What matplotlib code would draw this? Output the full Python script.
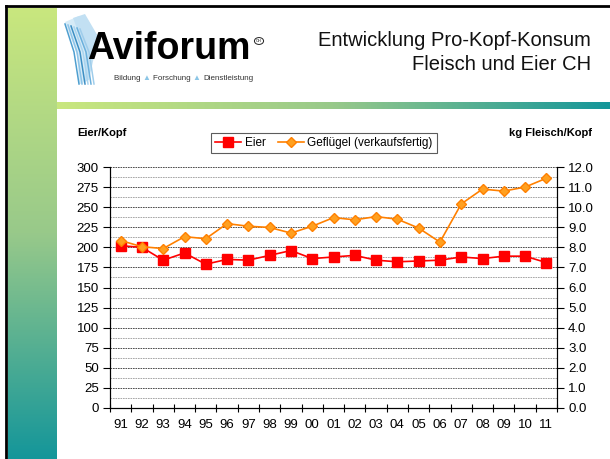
import numpy as np
import matplotlib
matplotlib.use("Agg")
import matplotlib.pyplot as plt
from matplotlib.lines import Line2D
from matplotlib.patches import Circle, Polygon
from matplotlib.colors import LinearSegmentedColormap

plt.rcParams['font.family'] = ['Liberation Sans', 'DejaVu Sans']

years = ["91", "92", "93", "94", "95", "96", "97", "98", "99", "00", "01",
         "02", "03", "04", "05", "06", "07", "08", "09", "10", "11"]
eier = [202, 200, 184, 193, 179, 185, 184, 190, 196, 186, 188,
        190, 184, 182, 183, 184, 188, 186, 189, 189, 181]
gefluegel = [8.34, 8.03, 7.94, 8.53, 8.43, 9.18, 9.05, 8.99, 8.71, 9.05, 9.48,
             9.37, 9.53, 9.40, 8.96, 8.26, 10.16, 10.90, 10.80, 11.00, 11.44]
left_ticks = np.arange(0, 301, 25)
right_ticks = np.arange(0, 12.1, 1.0)

W, H = 610, 459
fig = plt.figure(figsize=(W / 100, H / 100), dpi=100)
fig.patch.set_facecolor("white")


def fx(x):
    return x / W


def fy(y):
    return 1 - y / H


# gradient decoration (left bar + header rule)
grad = LinearSegmentedColormap.from_list("g", ["#c9e77e", "#98c98a", "#14969a"])
bar = fig.add_axes([fx(8), 0, fx(57) - fx(8), fy(8)])
bar.imshow(np.linspace(0, 1, 256).reshape(-1, 1), aspect="auto", cmap=grad)
bar.axis("off")
rule = fig.add_axes([fx(57), fy(109), 1 - fx(57), fy(102) - fy(109)])
rule.imshow(np.linspace(0, 1, 256).reshape(1, -1), aspect="auto", cmap=grad)
rule.axis("off")

# black frame top/left
fig.add_artist(Line2D([fx(6), 1], [fy(6), fy(6)], color="black", lw=2))
fig.add_artist(Line2D([fx(6), fx(6)], [0, fy(6)], color="black", lw=2))

# logo graphic: pale blue fan of strings
fan = [[(65, 22), (79, 16), (95, 40), (91, 60), (83, 84), (79, 84), (77, 55)],
       [(73, 18), (85, 14), (99, 38), (95, 52), (89, 80), (85, 82), (85, 50)]]
for pts, c in zip(fan, ["#d6ebf7", "#c2e0f3"]):
    fig.add_artist(Polygon([(fx(a), fy(b)) for a, b in pts], closed=True,
                           transform=fig.transFigure, fc=c, ec="none"))
strings = ["#4f9fd0", "#8cc4e8", "#3d8fc4", "#a9d4ef", "#6bb0dc", "#9fcdeb"]
for i, c in enumerate(strings):
    x0 = 65 + i * 3
    fig.add_artist(Line2D([fx(x0), fx(x0 + 9), fx(x0 + 14)],
                          [fy(24 + i), fy(52), fy(84)], color=c, lw=1.1))

fig.text(fx(87), fy(49), "Aviforum", fontsize=27, fontweight="bold",
         color="black", ha="left", va="center")
fig.add_artist(Circle((fx(259), fy(41)), 0.0075, transform=fig.transFigure,
                      fill=False, ec="#222222", lw=0.7))
fig.text(fx(259), fy(41), "CH", fontsize=2.8, ha="center", va="center")

# sub line, placed piece by piece
renderer = fig.canvas.get_renderer()
xpos = fx(114)
for s, c in [("Bildung ", "#333333"), ("▲ ", "#8cc6e6"), ("Forschung ", "#333333"),
             ("▲ ", "#8cc6e6"), ("Dienstleistung", "#333333")]:
    t = fig.text(xpos, fy(78), s, fontsize=5.8, color=c, ha="left", va="center")
    bb = t.get_window_extent(renderer)
    xpos += bb.width / W

# title
fig.text(fx(591), fy(41), "Entwicklung Pro-Kopf-Konsum", fontsize=14.5,
         ha="right", va="center", color="#111111")
fig.text(fx(591), fy(64), "Fleisch und Eier CH", fontsize=14.5,
         ha="right", va="center", color="#111111")

# chart
ax = fig.add_axes([fx(110), fy(408), fx(557) - fx(110), fy(167) - fy(408)])
x = np.arange(len(years))
ax.set_xlim(-0.5, len(years) - 0.5)
ax.set_ylim(0, 300)
ax.set_yticks(left_ticks)
ax.set_yticks(np.arange(12.5, 300, 25), minor=True)
ax.grid(True, which="major", axis="y", color="#333333", lw=0.6, ls=(0, (2, 1)))
ax.grid(True, which="minor", axis="y", color="#9a9a9a", lw=0.6, ls=(0, (2, 1)))
ax.set_axisbelow(True)
ax.set_xticks(np.arange(-0.5, len(years), 1))
ax.set_xticklabels([])
ax.set_xticks(x, minor=True)
ax.set_xticklabels(years, minor=True)
ax.tick_params(axis="x", which="major", length=6, direction="inout")
ax.tick_params(axis="x", which="minor", length=0, pad=8, labelsize=9.5)
ax.tick_params(axis="y", which="major", length=5, labelsize=9.5, pad=3)
ax.tick_params(axis="y", which="minor", length=0)
ax.spines["top"].set_visible(False)

l1, = ax.plot(x, eier, color="#ff0000", lw=1.2, marker="s", ms=7,
              mfc="#ff0000", mec="#ff0000", label="Eier", zorder=4)

ax2 = ax.twinx()
ax2.set_ylim(0, 12)
ax2.set_yticks(right_ticks)
ax2.set_yticklabels([f"{v:.1f}" for v in right_ticks])
ax2.tick_params(axis="y", length=5, labelsize=9.5, pad=3)
ax2.spines["top"].set_visible(False)
l2, = ax2.plot(x, gefluegel, color="#ff8000", lw=1.2, marker="D", ms=5,
               mfc="#ffa020", mec="#ff8000", label="Geflügel (verkaufsfertig)")

fig.text(fx(77), fy(133), "Eier/Kopf", fontsize=8, fontweight="bold",
         ha="left", va="center")
fig.text(fx(592), fy(133), "kg Fleisch/Kopf", fontsize=8, fontweight="bold",
         ha="right", va="center")

leg = fig.legend(handles=[l1, l2], loc="center", ncol=2,
                 bbox_to_anchor=(fx(324), fy(143)), fontsize=8.5,
                 frameon=True, fancybox=False, edgecolor="#333333",
                 handlelength=2.2, handletextpad=0.3, columnspacing=1.0,
                 borderpad=0.35)
leg.get_frame().set_linewidth(0.8)

fig.savefig("out.png", dpi=100)
